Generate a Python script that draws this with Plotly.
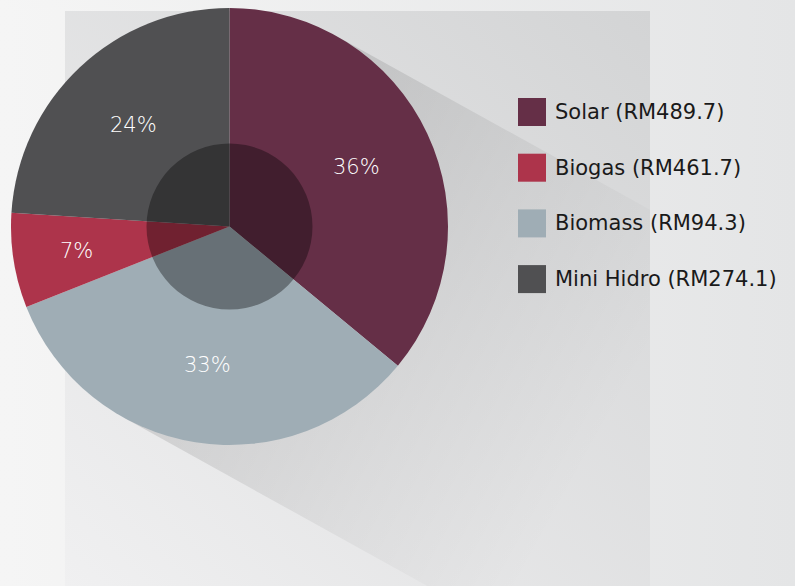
import base64, math
import plotly.graph_objects as go

# ---- data ----
slice_labels = ["Solar", "Biomass", "Biogas", "Mini Hidro"]
slice_pct = [36, 33, 7, 24]
legend_labels = ["Solar (RM489.7)", "Biogas (RM461.7)", "Biomass (RM94.3)", "Mini Hidro (RM274.1)"]
legend_keys = ["Solar", "Biogas", "Biomass", "Mini Hidro"]

# ---- styles ----
colors = {"Solar": "#652f47", "Biogas": "#ad344b", "Biomass": "#9fadb5", "Mini Hidro": "#505052"}
OFF = 8                      # page body margin
W, H = 795 - OFF, 586 - OFF  # figure size
cx, cy, R = 229.5 - OFF, 226.5 - OFF, 218.5
inner_r = 83

def px(x):
    return x / W

def py(y):
    return 1 - y / H

# background svg (gradients + long shadow), in figure pixel coords
a = math.radians(29)
d = (math.cos(a), math.sin(a))
n = (math.sin(a), -math.cos(a))
L = 700
t1 = (cx + R * n[0], cy + R * n[1])
t2 = (cx - R * n[0], cy - R * n[1])
poly = [t1, (t1[0] + L * d[0], t1[1] + L * d[1]), (t2[0] + L * d[0], t2[1] + L * d[1]), t2]
pts = " ".join(f"{x:.1f},{y:.1f}" for x, y in poly)
g_end = (cx + 430 * d[0], cy + 430 * d[1])
pnx, pny, pnw = 65 - OFF, 11 - OFF, 585
svg = f'''<svg xmlns="http://www.w3.org/2000/svg" width="{W}" height="{H}" viewBox="0 0 {W} {H}">
<defs>
<linearGradient id="bg" x1="0" y1="0" x2="1" y2="0">
<stop offset="0" stop-color="#f5f5f5"/><stop offset="1" stop-color="#e4e5e6"/></linearGradient>
<linearGradient id="pn" x1="0" y1="1" x2="1" y2="0">
<stop offset="0" stop-color="#f0f0f1"/><stop offset="1" stop-color="#d3d4d5"/></linearGradient>
<linearGradient id="sh" gradientUnits="userSpaceOnUse" x1="{cx}" y1="{cy}" x2="{g_end[0]:.1f}" y2="{g_end[1]:.1f}">
<stop offset="0" stop-color="#000" stop-opacity="0.12"/><stop offset="0.55" stop-color="#000" stop-opacity="0.05"/><stop offset="1" stop-color="#000" stop-opacity="0"/></linearGradient>
<clipPath id="cp"><rect x="{pnx}" y="{pny}" width="{pnw}" height="{H}"/></clipPath>
</defs>
<rect x="0" y="0" width="{W}" height="{H}" fill="url(#bg)"/>
<rect x="{pnx}" y="{pny}" width="{pnw}" height="{H}" fill="url(#pn)"/>
<polygon points="{pts}" fill="url(#sh)" clip-path="url(#cp)"/>
</svg>'''
src = "data:image/svg+xml;base64," + base64.b64encode(svg.encode()).decode()

fig = go.Figure()
fig.add_trace(go.Pie(
    labels=slice_labels, values=slice_pct, sort=False, direction="clockwise", rotation=0,
    marker=dict(colors=[colors[k] for k in slice_labels], line=dict(width=0)),
    textinfo="none", showlegend=False, hoverinfo="label+percent",
    domain=dict(x=[px(cx - R), px(cx + R)], y=[py(cy + R), py(cy - R)]),
))

shapes = [dict(type="circle", xref="paper", yref="paper",
               x0=px(cx - inner_r), x1=px(cx + inner_r),
               y0=py(cy + inner_r), y1=py(cy - inner_r),
               fillcolor="rgba(0,0,0,0.35)", line=dict(width=0), layer="above")]
annotations = []

# percentage labels placed at each slice's mid-angle
total = sum(slice_pct)
cum = 0
for lab, v in zip(slice_labels, slice_pct):
    mid = (cum + v / 2) / total * 2 * math.pi
    cum += v
    rf = 0.71 if v / total < 0.1 else 0.64
    x = cx + rf * R * math.sin(mid)
    y = cy - rf * R * math.cos(mid)
    annotations.append(dict(text=f"{v}%", xref="paper", yref="paper", x=px(x), y=py(y),
                            xanchor="center", yanchor="middle", showarrow=False,
                            font=dict(family="DejaVu Sans", size=21, color="#ffffff", weight=200)))

lx0, ly0, sq, gap = 518 - OFF, 112 - OFF, 28, 55.7
for i, (key, txt) in enumerate(zip(legend_keys, legend_labels)):
    yc = ly0 + i * gap
    shapes.append(dict(type="rect", xref="paper", yref="paper",
                       x0=px(lx0), x1=px(lx0 + sq), y0=py(yc + sq / 2), y1=py(yc - sq / 2),
                       fillcolor=colors[key], line=dict(width=0), layer="above"))
    annotations.append(dict(text=txt, xref="paper", yref="paper", x=px(553 - OFF), y=py(yc),
                            xanchor="left", yanchor="middle", showarrow=False,
                            font=dict(family="DejaVu Sans", size=21, color="#1a1a1a")))

fig.update_layout(
    width=W, height=H, margin=dict(l=0, r=0, t=0, b=0),
    paper_bgcolor="#eeeeee", plot_bgcolor="#eeeeee",
    shapes=shapes, annotations=annotations,
    images=[dict(source=src, xref="paper", yref="paper", x=0, y=1, sizex=1, sizey=1,
                 xanchor="left", yanchor="top", sizing="stretch", layer="below")],
)
fig.write_html("out.html",
               post_script="document.body.style.background='linear-gradient(to right, #f5f5f5, #e4e5e6)';")
